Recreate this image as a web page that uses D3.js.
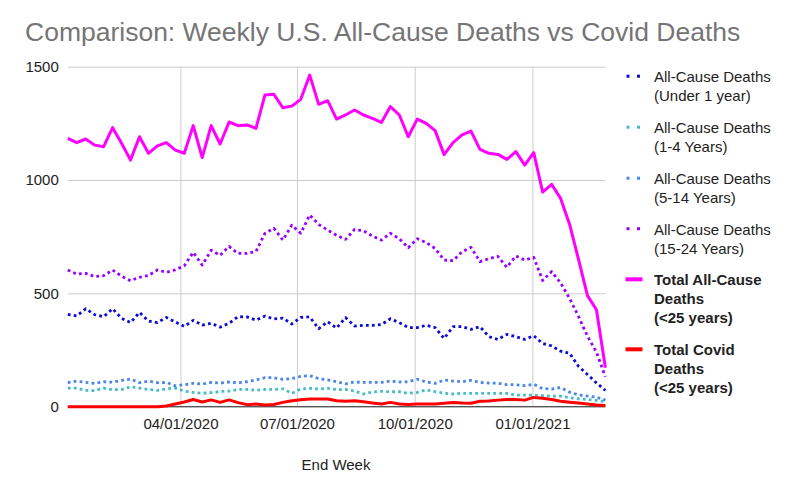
<!DOCTYPE html>
<html><head><meta charset="utf-8">
<script src="https://cdn.jsdelivr.net/npm/d3@7"></script>
<style>
html,body{margin:0;padding:0;background:#fff;}
svg{display:block;font-family:"Liberation Sans",Arial,sans-serif;}
</style></head>
<body>
<svg id="chart" width="800" height="495"></svg>
<script>
const weeks = ["2020-01-04","2020-01-11","2020-01-18","2020-01-25","2020-02-01","2020-02-08","2020-02-15","2020-02-22","2020-02-29",
"2020-03-07","2020-03-14","2020-03-21","2020-03-28","2020-04-04","2020-04-11","2020-04-18","2020-04-25","2020-05-02","2020-05-09",
"2020-05-16","2020-05-23","2020-05-30","2020-06-06","2020-06-13","2020-06-20","2020-06-27","2020-07-04","2020-07-11","2020-07-18",
"2020-07-25","2020-08-01","2020-08-08","2020-08-15","2020-08-22","2020-08-29","2020-09-05","2020-09-12","2020-09-19","2020-09-26",
"2020-10-03","2020-10-10","2020-10-17","2020-10-24","2020-10-31","2020-11-07","2020-11-14","2020-11-21","2020-11-28","2020-12-05",
"2020-12-12","2020-12-19","2020-12-26","2021-01-02","2021-01-09","2021-01-16","2021-01-23","2021-01-30","2021-02-06","2021-02-13",
"2021-02-20","2021-02-27"];

const under1 = [407,400,432,406,397,432,390,371,416,378,371,394,374,354,381,360,368,351,368,397,396,382,400,387,391,365,394,396,344,375,
347,393,356,359,359,362,388,371,349,349,359,349,301,353,353,341,353,309,297,319,309,297,313,279,268,245,236,178,142,105,72];
const age1to4 = [82,82,72,71,82,75,76,88,82,76,72,79,82,69,63,59,62,67,69,76,76,73,76,76,79,59,78,81,78,81,
75,76,69,56,65,68,66,66,59,63,74,66,59,56,59,59,59,59,59,59,51,51,51,49,47,47,40,35,32,28,22];
const age5to14 = [106,113,107,103,110,108,116,122,106,113,106,107,92,97,103,100,107,104,109,106,110,118,128,128,121,124,134,137,124,118,
110,101,109,107,107,107,113,109,110,121,109,103,118,113,110,116,107,104,104,97,97,93,99,80,78,85,64,52,47,42,29];
const age15to24 = [603,585,588,574,578,603,576,556,571,579,603,593,604,622,681,625,690,668,707,676,676,685,765,787,735,801,765,846,804,779,
756,738,782,776,753,735,765,741,701,741,724,698,647,644,684,703,640,653,663,615,665,647,659,557,596,546,478,398,311,241,132];
const totalAll = [1184,1165,1181,1154,1147,1231,1162,1088,1191,1118,1151,1165,1132,1118,1240,1099,1240,1159,1256,1240,1243,1228,1375,1378,1319,1326,1356,1463,1334,1350,
1269,1287,1309,1287,1272,1254,1324,1287,1191,1269,1250,1218,1112,1165,1199,1216,1135,1118,1113,1091,1125,1066,1121,947,981,919,805,650,490,428,172];
const covid = [0,0,0,0,0,0,0,0,0,0,0,3,12,21,32,21,30,19,30,18,9,12,7,10,19,26,31,34,34,34,
26,24,26,22,16,12,19,12,10,12,12,12,15,19,16,15,24,25,29,32,32,29,41,37,32,24,20,16,12,8,5];

const yTicks = [0,500,1000,1500];
const xTickDates = ["2020-04-01","2020-07-01","2020-10-01","2021-01-01"];

const seriesNames = [
  ["All-Cause Deaths","(Under 1 year)"],
  ["All-Cause Deaths","(1-4 Years)"],
  ["All-Cause Deaths","(5-14 Years)"],
  ["All-Cause Deaths","(15-24 Years)"],
  ["Total All-Cause","Deaths","(<25 years)"],
  ["Total Covid","Deaths","(<25 years)"]
];
const seriesColors = ["#0c0cd8","#46bdc6","#4a86e8","#9900ff","#ff00ff","#ff0000"];
const seriesDotted = [true,true,true,true,false,false];
const seriesBold = [false,false,false,false,true,true];
const seriesValues = [under1, age1to4, age5to14, age15to24, totalAll, covid];

const parse = d3.timeParse("%Y-%m-%d");
const dates = weeks.map(parse);

const svg = d3.select("#chart");
const L = 67.8, R = 605.4, T = 66.7, B = 406.7;

const x = d3.scaleTime().domain([dates[0], dates[dates.length-1]]).range([L, R]);
const y = d3.scaleLinear().domain([0,1500]).range([B, T]);

// title
svg.append("text").attr("x",25).attr("y",41)
  .attr("font-size",26.5).attr("fill","#757575")
  .text("Comparison: Weekly U.S. All-Cause Deaths vs Covid Deaths");

// horizontal grid + y labels
const yAxis = svg.append("g").attr("transform",`translate(${L},0)`)
  .call(d3.axisLeft(y).tickValues(yTicks).tickSize(-(R-L)).tickPadding(9).tickFormat(d3.format("d")));
yAxis.select(".domain").remove();
yAxis.selectAll(".tick line").attr("stroke","#cccccc").attr("stroke-width",1);
yAxis.selectAll(".tick text").attr("font-size",15).attr("fill","#222").attr("font-family","Liberation Sans, Arial, sans-serif");

// vertical grid + x labels
const xAxis = svg.append("g").attr("transform",`translate(0,${B})`)
  .call(d3.axisBottom(x).tickValues(xTickDates.map(parse)).tickSize(-(B-T)).tickPadding(12).tickFormat(d3.timeFormat("%m/%d/%Y")));
xAxis.select(".domain").remove();
xAxis.selectAll(".tick line").attr("stroke","#cccccc").attr("stroke-width",1);
xAxis.selectAll(".tick text").attr("font-size",15).attr("fill","#222").attr("font-family","Liberation Sans, Arial, sans-serif");

// baseline
svg.append("line").attr("x1",L).attr("x2",R).attr("y1",y(0)).attr("y2",y(0)).attr("stroke","#333").attr("stroke-width",1);

// x axis title
svg.append("text").attr("x",336).attr("y",470).attr("text-anchor","middle")
  .attr("font-size",15).attr("fill","#222").text("End Week");

// series
const line = d3.line().x((d,i)=>x(dates[i])).y(d=>y(d));
seriesValues.forEach((vals,k)=>{
  const p = svg.append("path").datum(vals).attr("d",line)
    .attr("fill","none").attr("stroke",seriesColors[k])
    .attr("stroke-linejoin","round");
  if (seriesDotted[k]) {
    p.attr("stroke-width",2.8).attr("stroke-dasharray","2.8,3.2");
  } else {
    p.attr("stroke-width",3);
  }
});

// legend
const legBase = [82,133,184,234.5,285,355];
const lg = svg.append("g");
seriesNames.forEach((lines,k)=>{
  const b = legBase[k];
  if (seriesDotted[k]) {
    lg.append("rect").attr("x",626.5).attr("y",b-7.3).attr("width",3).attr("height",3).attr("fill",seriesColors[k]);
    lg.append("rect").attr("x",637).attr("y",b-7.3).attr("width",3).attr("height",3).attr("fill",seriesColors[k]);
  } else {
    lg.append("rect").attr("x",625.5).attr("y",b-7.7).attr("width",17).attr("height",4).attr("fill",seriesColors[k]);
  }
  const t = lg.append("text").attr("x",654).attr("y",b).attr("font-size",15).attr("fill","#222")
    .attr("font-weight",seriesBold[k]?"bold":"normal");
  lines.forEach((s,j)=>{
    t.append("tspan").attr("x",654).attr("y",b+19*j).text(s);
  });
});
</script>
</body></html>
